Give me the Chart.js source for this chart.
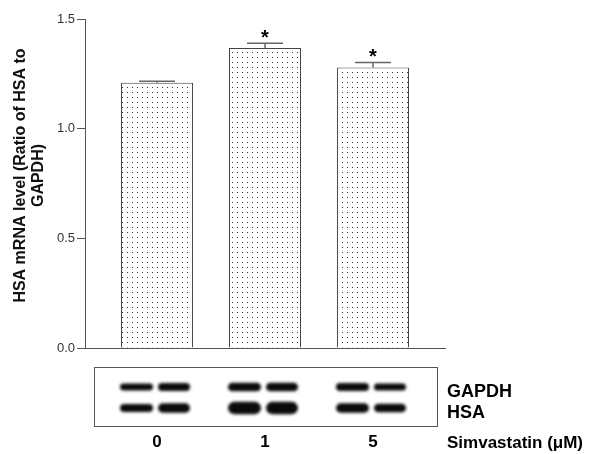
<!DOCTYPE html>
<html>
<head>
<meta charset="utf-8">
<script src="https://cdn.jsdelivr.net/npm/chart.js@4.4.1/dist/chart.umd.min.js"></script>
<style>
  html, body { margin: 0; padding: 0; background: #fff; }
  #wrap { width: 598px; height: 454px; }
</style>
</head>
<body>
<div id="wrap"><canvas id="chart"></canvas></div>
<script>
// values
const doses = ['0', '1', '5'];
const ratio = [1.209, 1.368, 1.279];
const sem = [0.007, 0.021, 0.023];
const sig = ['', '*', '*'];
const yTicks = [0, 0.5, 1.0, 1.5];
// relative band density in the blot, two replicates per lane
const gapdhBands = [[0.8, 0.95], [1.0, 1.0], [0.95, 0.85]];
const hsaBands = [[0.85, 1.0], [1.3, 1.3], [1.0, 0.9]];

const FONT = 'Arial, "Liberation Sans", sans-serif';

const canvas = document.getElementById('chart');

// dotted bar fill
const pat = document.createElement('canvas');
pat.width = 5; pat.height = 5;
const pctx = pat.getContext('2d');
pctx.fillStyle = '#fff';
pctx.fillRect(0, 0, 5, 5);
pctx.fillStyle = '#333';
pctx.fillRect(2, 2, 1, 1);
const dots = canvas.getContext('2d').createPattern(pat, 'repeat');

function band(ctx, xa, xb, yc, t) {
  ctx.beginPath();
  ctx.roundRect(xa, yc - t / 2, xb - xa, t, t / 2);
  ctx.fill();
}

const extras = {
  id: 'extras',
  afterDatasetsDraw(chart) {
    const { ctx, scales: { y } } = chart;
    const meta = chart.getDatasetMeta(0);
    ctx.save();
    meta.data.forEach((bar, i) => {
      const top = y.getPixelForValue(ratio[i]);
      const cap = y.getPixelForValue(ratio[i] + sem[i]);
      const half = bar.width / 4;
      ctx.strokeStyle = '#666';
      ctx.lineWidth = 1.5;
      ctx.beginPath();
      ctx.moveTo(bar.x, top);
      ctx.lineTo(bar.x, cap);
      ctx.moveTo(bar.x - half, cap);
      ctx.lineTo(bar.x + half, cap);
      ctx.stroke();
      if (sig[i]) {
        ctx.fillStyle = '#000';
        ctx.font = 'bold 20px ' + FONT;
        ctx.textAlign = 'center';
        ctx.textBaseline = 'alphabetic';
        ctx.fillText(sig[i], bar.x, cap + 1);
      }
    });
    ctx.restore();
  },
  afterDraw(chart) {
    const { ctx, chartArea: ca, scales: { x } } = chart;
    const base = ca.bottom;
    ctx.save();

    // y axis title, two lines
    ctx.fillStyle = '#111';
    ctx.font = 'bold 16px ' + FONT;
    ctx.textAlign = 'center';
    ctx.textBaseline = 'middle';
    const cy = (ca.top + ca.bottom) / 2 - 8;
    [['HSA mRNA level (Ratio of HSA to', 21], ['GAPDH)', 39]].forEach(([t, tx]) => {
      ctx.save();
      ctx.translate(tx, cy);
      ctx.rotate(-Math.PI / 2);
      ctx.fillText(t, 0, 0);
      ctx.restore();
    });

    // western blot panel
    const bx = ca.left + 9, bw = ca.right - 8 - bx;
    ctx.strokeStyle = '#555';
    ctx.lineWidth = 1;
    ctx.strokeRect(bx + 0.5, base + 19.5, bw, 59);
    ctx.filter = 'blur(1.5px)';
    ctx.fillStyle = '#0a0a0a';
    doses.forEach((d, i) => {
      const c = x.getPixelForValue(i);
      [[-37, -4], [1, 33]].forEach(([a, b], k) => {
        band(ctx, c + a, c + b, base + 39, 8.5 * gapdhBands[i][k]);
        band(ctx, c + a, c + b, base + 60, 9.5 * hsaBands[i][k]);
      });
    });
    ctx.filter = 'none';

    ctx.fillStyle = '#000';
    ctx.textAlign = 'left';
    ctx.textBaseline = 'middle';
    ctx.font = 'bold 18px ' + FONT;
    ctx.fillText('GAPDH', ca.right + 2, base + 44);
    ctx.fillText('HSA', ca.right + 2, base + 65);
    ctx.font = 'bold 17px ' + FONT;
    ctx.fillText('Simvastatin (\u03bcM)', ca.right + 2, base + 95);
    ctx.restore();
  }
};

new Chart(canvas, {
  type: 'bar',
  data: {
    datasets: [{
      data: ratio.map((v, i) => ({ x: i, y: v })),
      backgroundColor: dots,
      borderColor: '#444',
      borderWidth: 1,
      barPercentage: 0.667,
      categoryPercentage: 1
    }]
  },
  options: {
    responsive: true,
    maintainAspectRatio: false,
    animation: false,
    layout: { padding: { top: 19, right: 153, bottom: 0, left: 0 } },
    plugins: { legend: { display: false }, tooltip: { enabled: false } },
    scales: {
      x: {
        type: 'linear',
        offset: false,
        min: -0.667,
        max: 2.667,
        afterBuildTicks: s => { s.ticks = doses.map((d, i) => ({ value: i })); },
        afterFit: s => { s.height = 106; s.paddingLeft = 0; s.paddingRight = 0; },
        grid: { display: false, drawTicks: false, offset: false },
        border: { display: true, color: '#555', width: 1 },
        ticks: {
          callback: v => doses[v],
          padding: 84,
          maxRotation: 0,
          color: '#000',
          font: { family: FONT, size: 17, weight: 'bold' }
        }
      },
      y: {
        min: 0,
        max: 1.5,
        afterBuildTicks: s => { s.ticks = yTicks.map(v => ({ value: v })); },
        afterFit: s => { s.width = 85; s.paddingTop = 0; s.paddingBottom = 0; },
        grid: { drawOnChartArea: false, drawTicks: true, tickLength: 8, color: '#555' },
        border: { display: true, color: '#555', width: 1 },
        ticks: {
          callback: v => v.toFixed(1),
          padding: 2,
          color: '#333',
          font: { family: FONT, size: 13 }
        }
      }
    }
  },
  plugins: [extras]
});
</script>
</body>
</html>
